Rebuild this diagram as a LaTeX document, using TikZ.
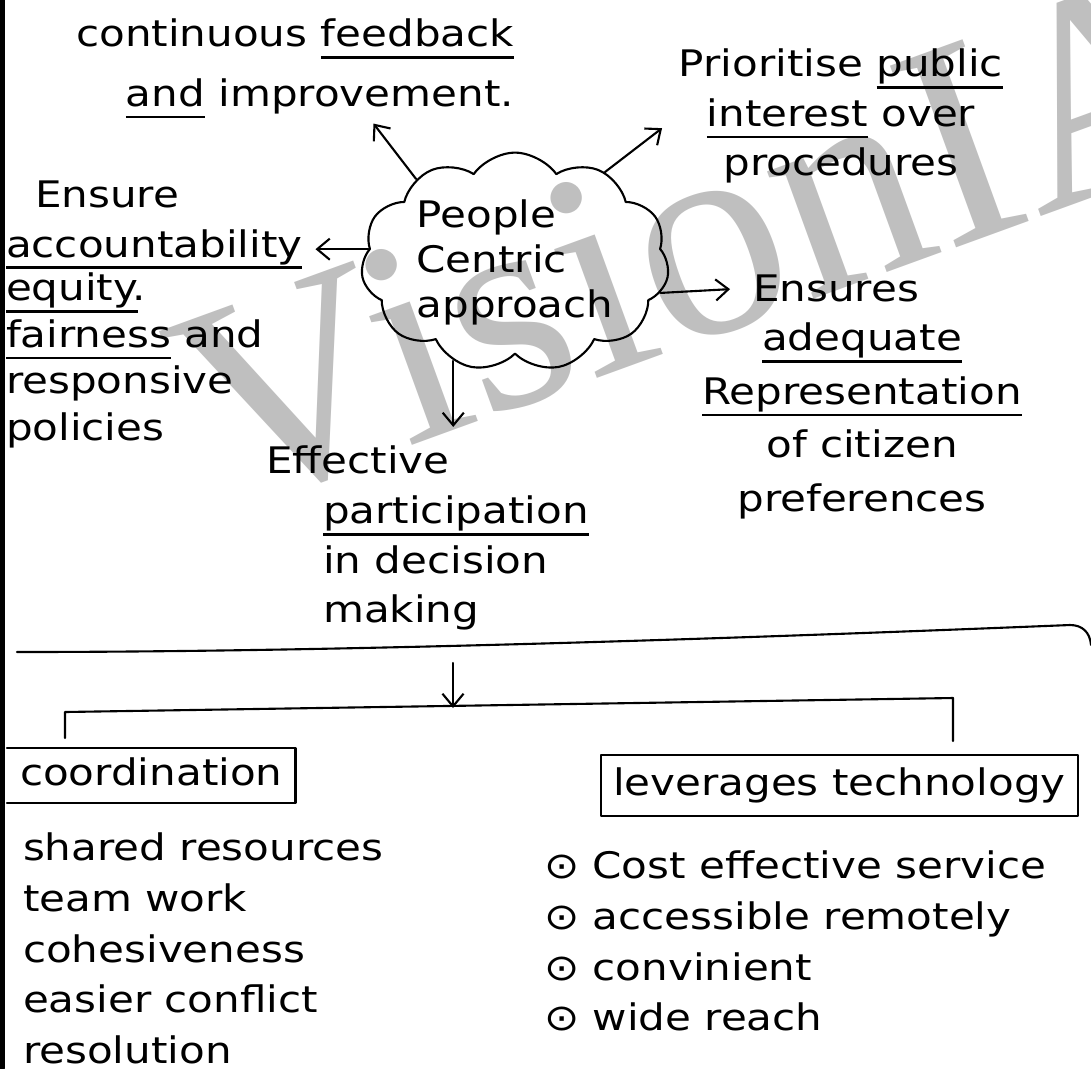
\documentclass[tikz,border=0pt]{standalone}
\usepackage{fontspec}
\setmainfont{DejaVu Sans}[FakeStretch=1.15]
\newfontfamily\wmfont{Liberation Serif}
\usetikzlibrary{arrows.meta, shapes.symbols}

\newlength\ulwd
\newcommand{\hul}[1]{\settowidth{\ulwd}{#1}\rlap{\rule[-0.32em]{\ulwd}{1.6pt}}#1}

\begin{document}
\begin{tikzpicture}[
        x = 0.025cm, y = -0.025cm, % one unit is one pixel of the sheet
        > = {Straight Barb[length=9pt,width=15pt]}, % arrow head style
        line width = 1.5pt, % pen stroke
        line cap = round,
        line join = round,
        hand/.style = {font=\fontsize{26}{35}\selectfont, inner sep=0pt},
        arr/.style = {->},
        boxed/.style = {hand, inner xsep=0.3cm, inner ysep=0.2cm, text height=20pt, text depth=6.5pt}
      ]

      \useasboundingbox (0,0) rectangle (1091,1068);

      % watermark
      \node[anchor=base west, rotate=20, inner sep=0pt, text=black!25,
            font=\wmfont\fontsize{210}{210}\selectfont] (wm) at (222,515) {VisionIAS};

      % page edge
      \draw[line width=0.15cm] (2,0) -- (2,1068);

      \node[hand, cloud, draw, cloud puffs=11, cloud puff arc=110, aspect=1.5,
            minimum width=7.7cm, minimum height=5.05cm, align=left,
            font=\fontsize{26}{32}\selectfont] (pca) at (515,262) {People\\Centric\\approach};

      \node[hand, anchor=north east, align=right] (fb) at (515,18)
            {continuous \hul{feedback}\\[0.25cm]\hul{and} improvement.};
      \node[hand, anchor=north, align=center] (prio) at (841,48)
            {Prioritise \hul{public}\\\hul{interest} over\\procedures};
      \node[hand, anchor=base west] (ensure) at (34,207) {Ensure};
      \node[hand, anchor=base west] (acc) at (5,257) {\hul{accountability}};
      \node[hand, anchor=north west, align=left, font=\fontsize{26}{33}\selectfont] (eqt) at (5,272)
            {\hul{equity}.\\\hul{fairness} and\\responsive\\policies};
      \node[hand, anchor=base west] (ensures) at (752,301) {Ensures};
      \node[hand, anchor=north, align=center, font=\fontsize{26}{38}\selectfont] (repr) at (862,322)
            {\hul{adequate}\\\hul{Representation}\\of citizen\\preferences};
      \node[hand, anchor=base west] (eff) at (265,473) {Effective};
      \node[hand, anchor=north west, align=left] (part) at (322,495)
            {\hul{participation}\\in decision\\making};

      \draw[arr, shorten >=0.15cm] (pca.140) -- (fb.-34);
      \draw[arr, shorten >=0.5cm] (pca.45) -- (prio.west);
      \draw[arr, shorten >=0.3cm] (pca.175) -- (acc.east |- pca.175);
      \draw[arr, shorten >=0.55cm] (pca.-12) -- (ensures.west);
      \draw[arr, shorten >=0.43cm] (pca.-122) -- (pca.-122 |- eff.north);

      % divider and split
      \draw (17,652) .. controls (300,652) and (650,642) .. (1070,625)
            .. controls (1082,625) and (1090,632) .. (1091,645);
      \coordinate (dvd) at (453,663);
      \coordinate (brk) at (453,708);
      \draw[arr] (dvd) -- (brk);
      \draw (65,738) -- (65,712) -- (953,698) -- (953,741);

      \node[boxed, anchor=base west] (coord) at (7,785) {coordination};
      \draw (coord.north west) -- (coord.north east) -- (coord.south east) -- (coord.south west);
      \node[hand, anchor=north west, align=left, font=\fontsize{26}{36}\selectfont] (coordlist) at (22,832)
            {shared resources\\team work\\cohesiveness\\easier conflict\\resolution};

      \node[boxed, draw, inner ysep=0.3cm, anchor=base west] (tech) at (600,795) {leverages technology};
      \node[hand, anchor=north west, align=left, font=\fontsize{26}{36}\selectfont] (techlist) at (543,850)
            {⊙ Cost effective service\\⊙ accessible remotely\\⊙ convinient\\⊙ wide reach};

    \end{tikzpicture}
\end{document}
